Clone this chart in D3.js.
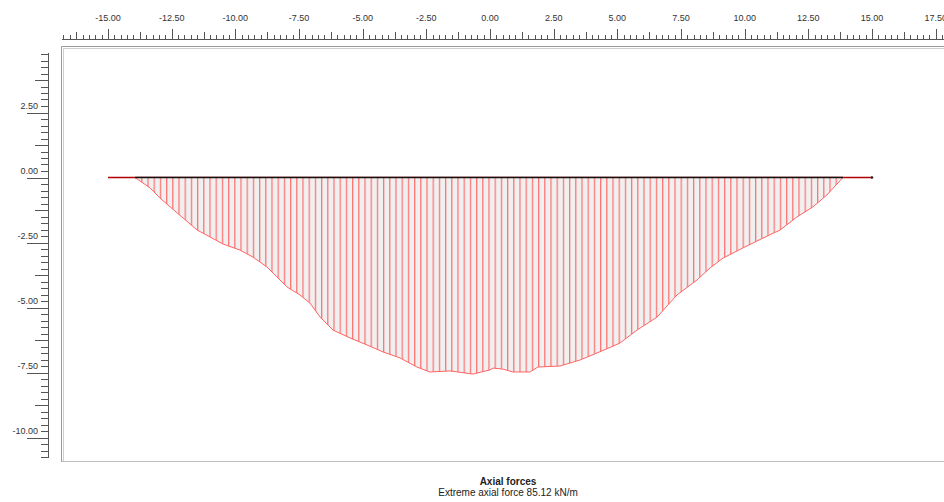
<!DOCTYPE html>
<html>
<head>
<meta charset="utf-8">
<script src="https://cdn.jsdelivr.net/npm/d3@7"></script>
<style>
  body { margin: 0; background: #fff; }
  svg { display: block; font-family: 'Liberation Sans', Arial, sans-serif; }
</style>
</head>
<body>
<svg id="chart" width="944" height="502"></svg>
<script>
// positions along the beam (m) and axial force diagram values (plot units)
const xs = [-13.94, -13.35, -12.96, -12.56, -12.05, -11.50, -10.99, -10.48, -9.82, -9.31,
  -8.76, -8.36, -7.97, -7.46, -7.07, -6.67, -6.16, -5.50, -4.83, -4.20,
  -3.53, -2.87, -2.36, -1.57, -0.67, 0.00, 0.12, 0.51, 0.90, 1.57,
  1.88, 2.75, 3.53, 4.20, 5.10, 5.77, 6.56, 7.34, 8.13, 8.64,
  9.15, 9.93, 10.72, 11.39, 12.05, 12.68, 13.23, 13.86];
const forces = [0, -0.40, -0.79, -1.13, -1.56, -2.02, -2.29, -2.56, -2.79, -3.06,
  -3.44, -3.83, -4.21, -4.52, -4.83, -5.37, -5.87, -6.17, -6.44, -6.71,
  -6.94, -7.29, -7.48, -7.44, -7.56, -7.40, -7.33, -7.37, -7.48, -7.48,
  -7.29, -7.25, -7.02, -6.75, -6.37, -5.87, -5.37, -4.52, -3.94, -3.48,
  -3.10, -2.71, -2.33, -2.02, -1.52, -1.13, -0.67, 0];

const beamExtent = [-15, 15];
const xLabelValues = [-15, -12.5, -10, -7.5, -5, -2.5, 0, 2.5, 5, 7.5, 10, 12.5, 15, 17.5];
const xLabels = ['-15.00', '-12.50', '-10.00', '-7.50', '-5.00', '-2.50', '0.00', '2.50', '5.00', '7.50', '10.00', '12.50', '15.00', '17.50'];
const yLabelValues = [2.5, 0, -2.5, -5, -7.5, -10];
const yLabels = ['2.50', '0.00', '-2.50', '-5.00', '-7.50', '-10.00'];
const title = 'Axial forces';
const subtitle = 'Extreme axial force 85.12 kN/m';

const svg = d3.select('#chart');
const x = d3.scaleLinear().domain([-15, 15]).range([108, 872]);
const y = d3.scaleLinear().domain([0, -10]).range([177.5, 437.5]);

// hatch pattern: light grey with thin red verticals
const defs = svg.append('defs');
const pat = defs.append('pattern')
  .attr('id', 'hatch')
  .attr('patternUnits', 'userSpaceOnUse')
  .attr('x', x(xs[0]))
  .attr('y', 0)
  .attr('width', 6.2)
  .attr('height', 502);
pat.append('rect').attr('width', 6.2).attr('height', 502).attr('fill', '#f0f0f0');
pat.append('line')
  .attr('x1', 0.6).attr('x2', 0.6).attr('y1', 0).attr('y2', 502)
  .attr('stroke', '#ff7272').attr('stroke-width', 1.3);

// frame
svg.append('path')
  .attr('d', 'M61.5,462 V46.5 H944')
  .attr('fill', 'none').attr('stroke', '#9a9a9a');
svg.append('path')
  .attr('d', 'M63.5,462 V48.5 H944')
  .attr('fill', 'none').attr('stroke', '#cfcfcf');
svg.append('line')
  .attr('x1', 61.5).attr('x2', 944).attr('y1', 461.5).attr('y2', 461.5)
  .attr('stroke', '#bdbdbd');

// top ruler
const xTicks = d3.range(-67, 72).map((i) => i * 0.25);
const topRuler = svg.append('g').attr('stroke', '#555').attr('stroke-width', 1);
topRuler.append('line').attr('x1', 62).attr('x2', 944).attr('y1', 39.5).attr('y2', 39.5);
topRuler.selectAll('line.t').data(xTicks).join('line')
  .attr('class', 't')
  .attr('x1', (d) => Math.round(x(d)) + 0.5)
  .attr('x2', (d) => Math.round(x(d)) + 0.5)
  .attr('y1', 39)
  .attr('y2', (d) => {
    const k = Math.round(d * 4);
    if (k % 10 === 0) return 29;
    if (k % 5 === 0) return 32;
    return 35;
  });
svg.append('g').selectAll('text').data(xLabelValues).join('text')
  .attr('x', (d) => x(d))
  .attr('y', 21)
  .attr('text-anchor', 'middle')
  .attr('font-size', 9)
  .attr('fill', '#333')
  .text((d, i) => xLabels[i]);

// left ruler
const yTicks = d3.range(-43, 20).map((i) => i * 0.25);
const leftRuler = svg.append('g').attr('stroke', '#555').attr('stroke-width', 1);
leftRuler.append('line').attr('x1', 48.5).attr('x2', 48.5).attr('y1', 53).attr('y2', 458);
leftRuler.selectAll('line.t').data(yTicks).join('line')
  .attr('class', 't')
  .attr('y1', (d) => Math.round(y(d)) + 0.5)
  .attr('y2', (d) => Math.round(y(d)) + 0.5)
  .attr('x2', 49)
  .attr('x1', (d) => {
    const k = Math.round(d * 4);
    if (k % 10 === 0) return 27;
    if (k % 5 === 0) return 35;
    return 41;
  });
svg.append('g').selectAll('text').data(yLabelValues).join('text')
  .attr('x', 38)
  .attr('y', (d) => y(d) - 4)
  .attr('text-anchor', 'end')
  .attr('font-size', 9)
  .attr('fill', '#333')
  .text((d, i) => yLabels[i]);

// beam line
svg.append('line')
  .attr('x1', x(beamExtent[0])).attr('x2', x(beamExtent[1]))
  .attr('y1', y(0)).attr('y2', y(0))
  .attr('stroke', '#b00000').attr('stroke-width', 1.5);

// force diagram
const pts = xs.map((v, i) => [v, forces[i]]);
const area = d3.area().x((d) => x(d[0])).y0(y(0)).y1((d) => y(d[1]));
svg.append('path').datum(pts)
  .attr('d', area)
  .attr('fill', 'url(#hatch)');
svg.append('path').datum(pts)
  .attr('d', d3.line().x((d) => x(d[0])).y((d) => y(d[1])))
  .attr('fill', 'none')
  .attr('stroke', '#ff6464')
  .attr('stroke-width', 1);

svg.append('line')
  .attr('x1', x(xs[0])).attr('x2', x(xs[xs.length - 1]))
  .attr('y1', y(0)).attr('y2', y(0))
  .attr('stroke', '#111').attr('stroke-width', 1.5);
svg.append('circle').attr('cx', x(beamExtent[1])).attr('cy', y(0)).attr('r', 1.3).attr('fill', '#222');

// captions
svg.append('text')
  .attr('x', 508).attr('y', 485)
  .attr('text-anchor', 'middle')
  .attr('font-size', 10).attr('font-weight', 'bold')
  .attr('fill', '#222')
  .text(title);
svg.append('text')
  .attr('x', 508).attr('y', 496)
  .attr('text-anchor', 'middle')
  .attr('font-size', 10)
  .attr('fill', '#222')
  .text(subtitle);
</script>
</body>
</html>
